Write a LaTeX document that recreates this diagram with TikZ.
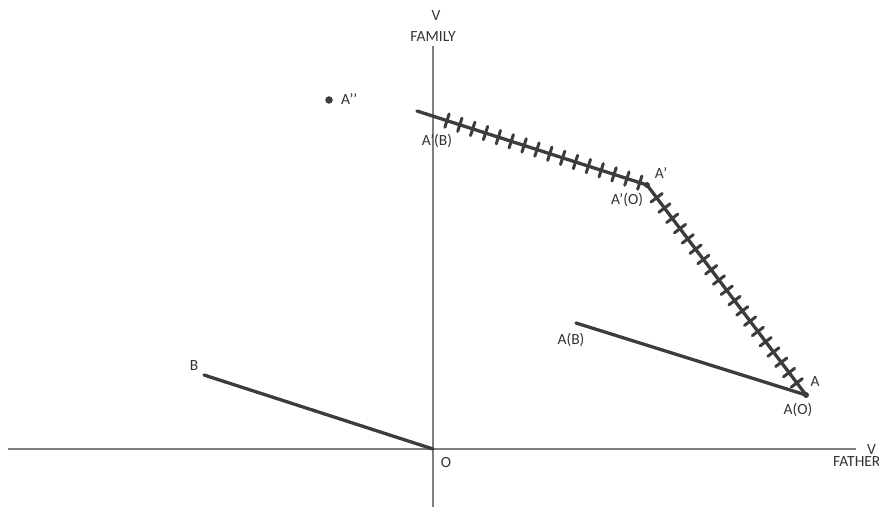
\documentclass[tikz,border=0pt]{standalone}
\usepackage{fontspec}
\setmainfont{Carlito}
\usetikzlibrary{decorations.markings}
\definecolor{axisgray}{HTML}{7F7F7F}
\definecolor{linedark}{HTML}{3C3C3C}
\definecolor{txt}{HTML}{333333}
\tikzset{
  axis/.style={draw=axisgray, line width=1.6pt},
  seg/.style={draw=linedark, line width=3.3pt, line cap=round},
  lbl/.style={text=txt, inner sep=0pt, font=\fontsize{15.5}{18}\selectfont},
  dot/.style={circle, fill=linedark, inner sep=0pt, minimum size=#1},
  tickA/.style={postaction={decorate, decoration={markings,
     mark=between positions 31.5pt and 236pt step 13.5pt with
     {\draw[draw=linedark, line width=3pt, line cap=round] (0,-7pt) -- (0,7pt);}}}},
  tickB/.style={postaction={decorate, decoration={markings,
     mark=between positions 16pt and 250pt step 12.9pt with
     {\draw[draw=linedark, line width=3pt, line cap=round] (0,-7pt) -- (0,7pt);}}}},
}
\begin{document}
\begin{tikzpicture}[x=1pt,y=-1pt]
\useasboundingbox (0,0) rectangle (879,508);
% axis ends
\coordinate (xl) at (8,449);
\coordinate (xr) at (856,449);
\coordinate (yt) at (433,46);
\coordinate (yb) at (433,507);
\coordinate (O) at (433,449);
% points
\coordinate (B) at (204,375);
\coordinate (AB) at (576,323);
\coordinate (A) at (806,395);
\coordinate (Ap) at (647,185);
\coordinate (ApB) at (417,111);
% axes
\draw[axis] (xl) -- (xr);
\draw[axis] (yt) -- (yb);
% segments
\draw[seg] (B) -- (O);
\draw[seg] (AB) -- (A);
\draw[seg, tickA] (ApB) -- (Ap);
\draw[seg, tickB] (Ap) -- (A);
% dots
\node[dot=7.5pt] (App) at (329,100) {};
\node[dot=6pt] (Adot) at (A) {};
\node[dot=6pt] (Apdot) at (Ap) {};
% labels
\node[lbl] (lV1) at (436,16) {V};
\node[lbl] (lFam) at (433,37) {FAMILY};
\node[lbl, anchor=west] (lV2) at (867,450) {V};
\node[lbl, anchor=west] (lFat) at (833,462) {FATHER};
\node[lbl] (lO) at (446,463) {O};
\node[lbl] (lB) at (194,366) {B};
\node[lbl] (lAB) at (571,340) {A(B)};
\node[lbl] (lA) at (815,382) {A};
\node[lbl] (lAO) at (798,410) {A(O)};
\node[lbl] (lAp) at (661,173) {A’};
\node[lbl] (lApO) at (627,200) {A’(O)};
\node[lbl] (lApB) at (437,141) {A’(B)};
\node[lbl, anchor=west] (lApp) at (341,99) {A’’};
\end{tikzpicture}
\end{document}
